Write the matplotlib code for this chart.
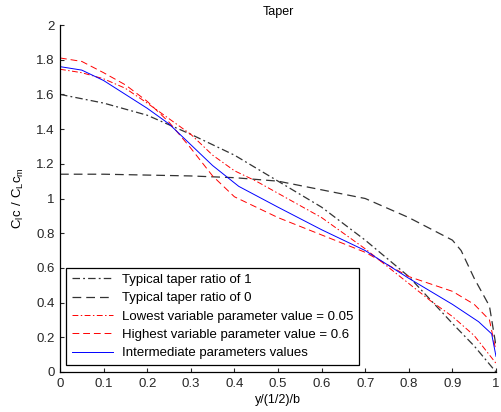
import matplotlib
matplotlib.use("Agg")
import matplotlib.pyplot as plt

# spanwise station y/(b/2)
x_t1 = [0.0, 0.1, 0.2, 0.3, 0.4, 0.5, 0.6, 0.7, 0.8, 0.9, 0.95, 1.0]
y_t1 = [1.60, 1.55, 1.48, 1.37, 1.25, 1.10, 0.95, 0.76, 0.55, 0.28, 0.15, 0.0]

x_t0 = [0.0, 0.1, 0.2, 0.3, 0.4, 0.5, 0.6, 0.7, 0.8, 0.9, 0.92, 0.95, 0.985, 1.0]
y_t0 = [1.14, 1.14, 1.135, 1.13, 1.12, 1.10, 1.05, 1.00, 0.89, 0.76, 0.70, 0.54, 0.38, 0.15]

x_low = [0.0, 0.05, 0.1, 0.15, 0.2, 0.25, 0.3, 0.35, 0.4, 0.45, 0.5, 0.6,
         0.7, 0.75, 0.8, 0.85, 0.9, 0.95, 1.0]
y_low = [1.745, 1.725, 1.69, 1.635, 1.55, 1.46, 1.37, 1.25, 1.16, 1.10, 1.03, 0.89,
         0.71, 0.61, 0.51, 0.41, 0.32, 0.21, 0.05]

x_high = [0.0, 0.05, 0.1, 0.15, 0.2, 0.25, 0.3, 0.35, 0.4, 0.45, 0.5, 0.6,
          0.7, 0.8, 0.9, 0.95, 0.985, 1.0]
y_high = [1.81, 1.79, 1.725, 1.655, 1.56, 1.44, 1.29, 1.13, 1.01, 0.95, 0.89, 0.79,
          0.69, 0.55, 0.465, 0.39, 0.30, 0.12]

x_mid = [0.0, 0.05, 0.1, 0.15, 0.2, 0.25, 0.3, 0.35, 0.41, 0.5, 0.6, 0.7,
         0.8, 0.9, 0.96, 0.99, 1.0]
y_mid = [1.76, 1.74, 1.68, 1.60, 1.52, 1.43, 1.31, 1.19, 1.07, 0.95, 0.82, 0.70,
         0.54, 0.39, 0.29, 0.22, 0.09]

labels = [
    "Typical taper ratio of 1",
    "Typical taper ratio of 0",
    "Lowest variable parameter value = 0.05",
    "Highest variable parameter value = 0.6",
    "Intermediate parameters values",
]

plt.rcParams["font.family"] = ["Liberation Sans", "DejaVu Sans"]
plt.rcParams["font.size"] = 9

fig = plt.figure(figsize=(5.02, 4.12), dpi=100)
ax = fig.add_axes([60 / 502, 40 / 412, 436 / 502, 347 / 412])

dashdot = (0, (6, 2.5, 1.5, 2.5))
dashed = (0, (7, 4))
ax.plot(x_t1, y_t1, color="#333333", lw=0.9, ls=dashdot, label=labels[0])
ax.plot(x_t0, y_t0, color="#333333", lw=0.9, ls=dashed, label=labels[1])
ax.plot(x_low, y_low, color="red", lw=0.7, ls=dashdot, label=labels[2])
ax.plot(x_high, y_high, color="red", lw=0.7, ls=dashed, label=labels[3])
ax.plot(x_mid, y_mid, color="blue", lw=0.7, ls="-", label=labels[4])

ax.set_xlim(0, 1)
ax.set_ylim(0, 2)
ax.set_xticks([i / 10 for i in range(11)])
ax.set_xticklabels(["0", "0.1", "0.2", "0.3", "0.4", "0.5", "0.6", "0.7", "0.8", "0.9", "1"])
ax.set_yticks([i / 5 for i in range(11)])
ax.set_yticklabels(["0", "0.2", "0.4", "0.6", "0.8", "1", "1.2", "1.4", "1.6", "1.8", "2"])
ax.tick_params(direction="in", length=3, width=0.8, labelsize=9.5, colors="#262626", pad=4)
for side in ("top", "right"):
    ax.spines[side].set_visible(False)
for side in ("left", "bottom"):
    ax.spines[side].set_linewidth(0.9)

ax.set_title("Taper", fontsize=9, pad=7)
ax.set_xlabel("y/(1/2)/b", fontsize=9, labelpad=3)
ax.set_ylabel(r"$\mathregular{C_lc\ /\ C_Lc_m}$", fontsize=9.5, labelpad=7)

leg = ax.legend(loc="lower left", bbox_to_anchor=(0.013, 0.02), fontsize=9.5,
                frameon=True, fancybox=False, edgecolor="black", framealpha=1,
                handlelength=3.1, borderaxespad=0, labelspacing=0.46,
                borderpad=0.45, handletextpad=0.7)
leg.get_frame().set_linewidth(0.9)

fig.savefig("out.png", dpi=100, facecolor="white")
